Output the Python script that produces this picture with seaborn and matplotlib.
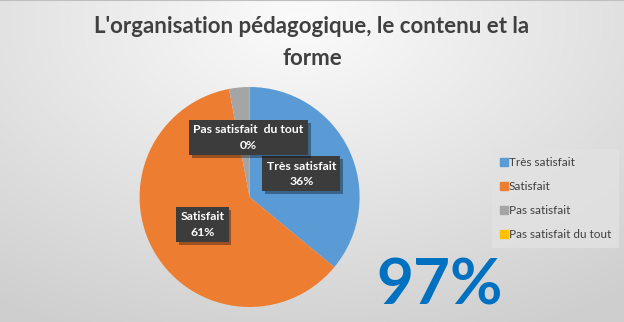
import numpy as np
import matplotlib
matplotlib.use("Agg")
import matplotlib.pyplot as plt
import matplotlib.patheffects as pe
import seaborn as sns

# Survey answers
categories = ["Très satisfait", "Satisfait", "Pas satisfait", "Pas satisfait du tout"]
values = [36, 61, 3, 0]
shown_labels = ["Très satisfait", "Satisfait", None, "Pas satisfait  du tout"]
title = "L'organisation pédagogique, le contenu et la\nforme"
satisfied_share = values[0] + values[1]

sns.set_theme(style="white")
plt.rcParams["font.family"] = ["Lato", "DejaVu Sans"]
colors = sns.color_palette(["#5B9BD5", "#ED7D31", "#A5A5A5", "#FFC000"])

fig = plt.figure(figsize=(6.24, 3.22), dpi=100)

# soft radial background
bg = fig.add_axes([0, 0, 1, 1], zorder=-5)
yy, xx = np.mgrid[0:322, 0:624]
d = np.sqrt(((xx - 300) / 520.0) ** 2 + ((yy - 20) / 330.0) ** 2)
shade = np.clip(0.985 - 0.17 * d, 0.81, 1.0)
bg.imshow(np.dstack([shade] * 3), extent=[0, 1, 0, 1], aspect="auto", origin="upper")
bg.axhline(1, color="#bfbfbf", lw=1.5)
bg.set_axis_off()

fig.text(0.5, 0.95, title, ha="center", va="top", fontsize=16, fontweight="bold",
         color="#404040", linespacing=1.65)

ax = fig.add_axes([0.2237, 0.0466, 0.3526, 0.6832])
wedges, _ = ax.pie(values, colors=colors, startangle=90, counterclock=False,
                   radius=1, wedgeprops=dict(linewidth=0))
ax.set_xlim(-1, 1)
ax.set_ylim(-1, 1)
ax.set_axis_off()

# data label placement inside the pie
label_pos = [(0.47, 0.21), (-0.43, -0.25), None, (-0.01, 0.54)]
total = sum(values)
for lab, val, pos in zip(shown_labels, values, label_pos):
    if lab is None:
        continue
    t = ax.text(pos[0], pos[1], f"{lab}\n{round(100 * val / total)}%", ha="center",
                va="center", fontsize=8.8, fontweight="bold", color="white",
                linespacing=1.5,
                bbox=dict(boxstyle="square,pad=0.35", facecolor="#3c3c3c",
                          edgecolor="none"))
    t.get_bbox_patch().set_path_effects([
        pe.withSimplePatchShadow(offset=(2, -2), shadow_rgbFace="black", alpha=0.35),
        pe.Normal()])

# legend
handles = [plt.Rectangle((0, 0), 1, 1, color=c) for c in colors]
leg = fig.legend(handles, categories, loc="upper left", bbox_to_anchor=(0.785, 0.545),
                 frameon=True, fontsize=8.5, handlelength=0.6, handleheight=0.6,
                 handletextpad=0.12, labelspacing=1.1, borderpad=0.4,
                 labelcolor="#404040")
leg.get_frame().set_facecolor("#e2e2e2")
leg.get_frame().set_edgecolor("none")
leg.get_frame().set_alpha(0.8)
leg.get_frame().set_boxstyle("square")

fig.text(0.705, 0.053, f"{satisfied_share}%", ha="center", va="baseline",
         fontsize=46, fontweight="bold", color="#0070C0")

fig.savefig("out.png", dpi=100)
